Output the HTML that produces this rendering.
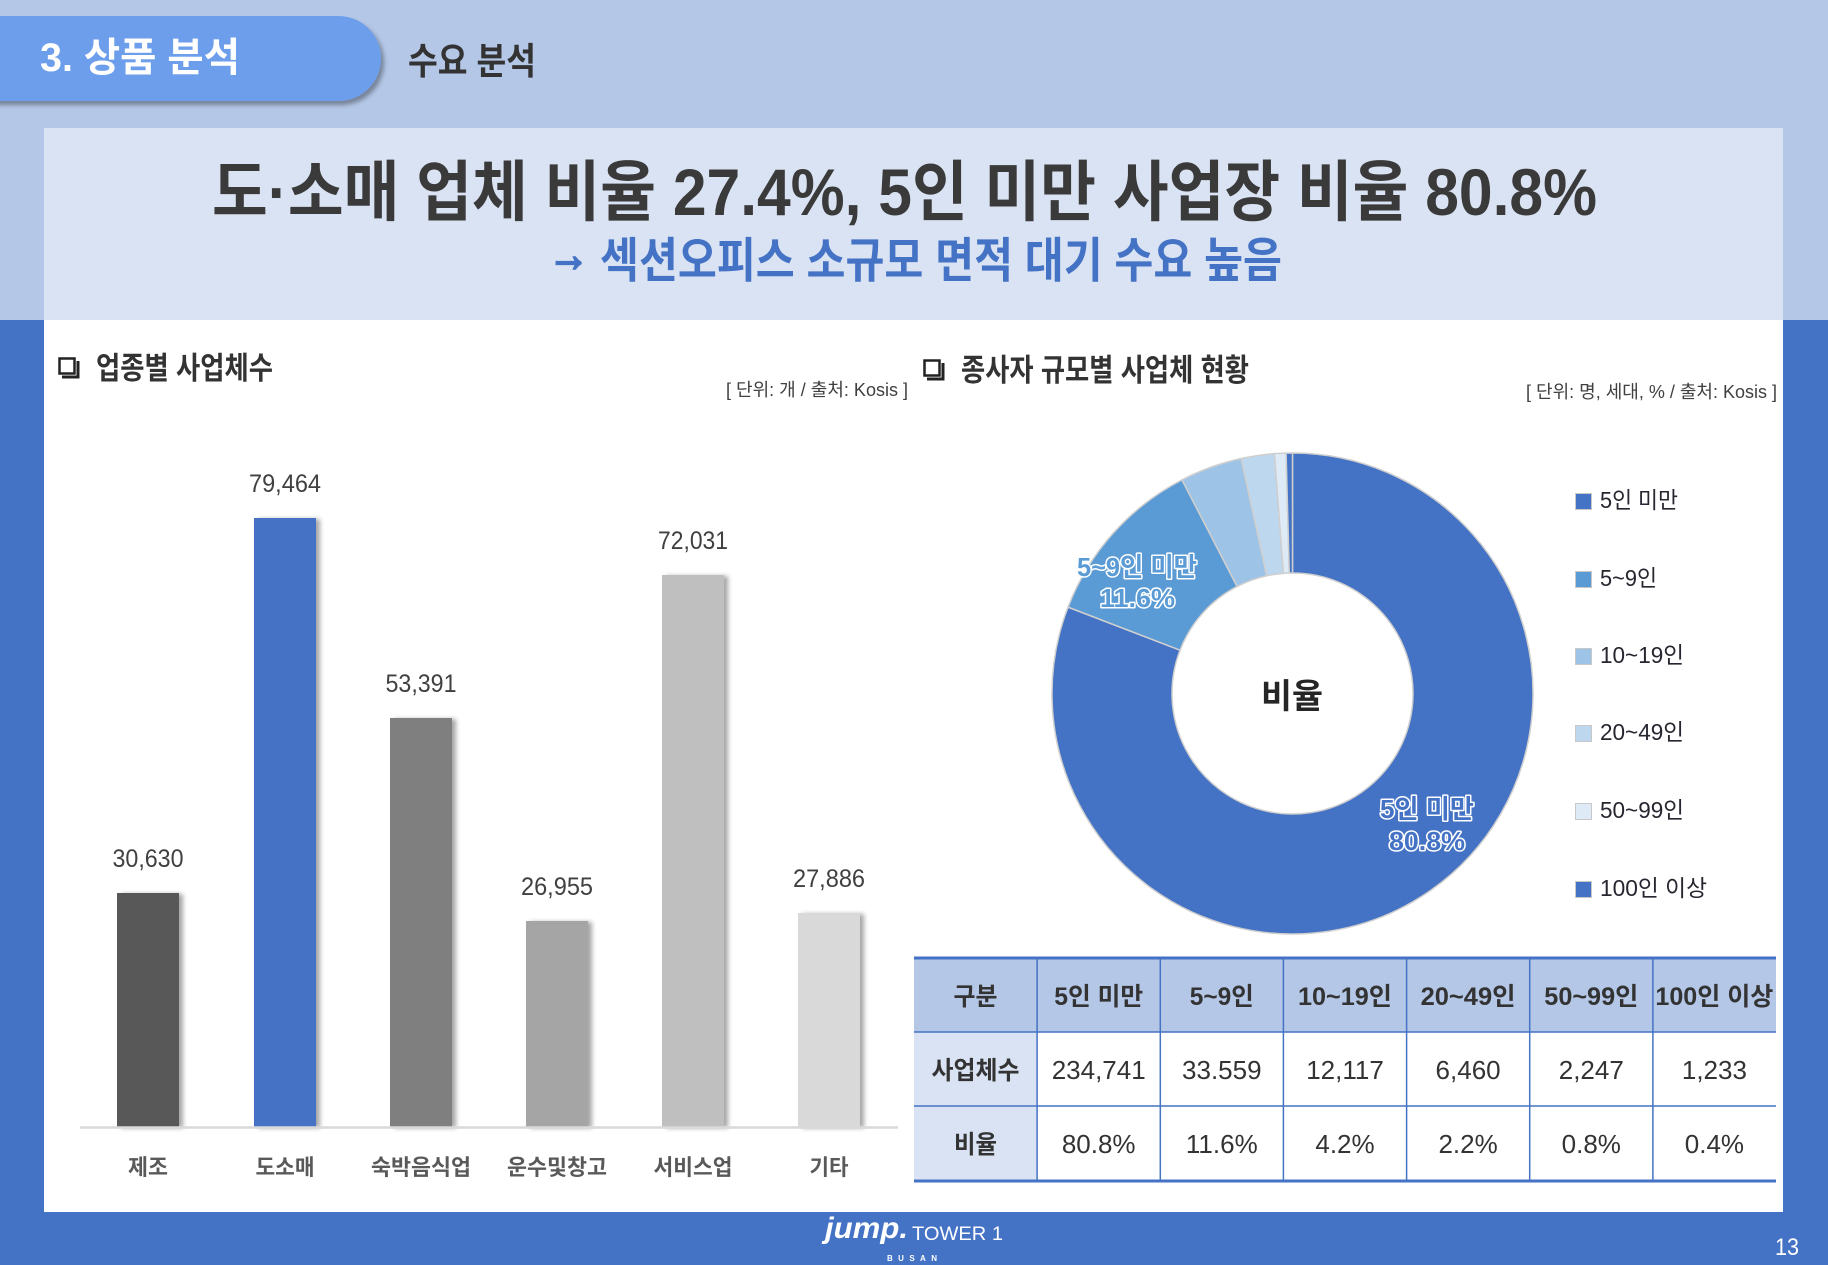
<!DOCTYPE html>
<html><head><meta charset="utf-8"><style>
html,body{margin:0;padding:0;width:1828px;height:1265px;overflow:hidden;background:#4472c4}
svg{display:block}
</style></head><body>
<svg width="1828" height="1265" viewBox="0 0 1828 1265" xmlns="http://www.w3.org/2000/svg" font-family="'Liberation Sans','Noto Sans CJK KR',sans-serif">
<defs>
<filter id="tabsh" x="-10%" y="-20%" width="130%" height="160%"><feDropShadow dx="3" dy="4" stdDeviation="2.5" flood-color="#000" flood-opacity="0.35"/></filter>
<filter id="barsh" x="-20%" y="-5%" width="150%" height="110%"><feDropShadow dx="4" dy="1" stdDeviation="2.5" flood-color="#000" flood-opacity="0.35"/></filter>
</defs>
<!-- backgrounds -->
<rect x="0" y="0" width="1828" height="320" fill="#b4c7e7"/>
<rect x="0" y="320" width="1828" height="945" fill="#4472c4"/>
<rect x="44" y="128" width="1739" height="1084" fill="#ffffff"/>
<rect x="44" y="128" width="1739" height="192" fill="#dae3f3"/>

<!-- tab -->
<path d="M-10,16 H338.5 A42.5,42.5 0 0 1 338.5,101 H-10 Z" fill="#6d9eeb" filter="url(#tabsh)"/>
<text x="40" y="71" font-size="40" font-weight="bold" fill="#ffffff" textLength="200" lengthAdjust="spacingAndGlyphs">3. 상품 분석</text>
<text x="408" y="74" font-size="37" font-weight="bold" fill="#333333" textLength="128" lengthAdjust="spacingAndGlyphs">수요 분석</text>

<!-- headline -->
<text x="212" y="215" font-size="66" font-weight="bold" fill="#3a3a3a" textLength="1385" lengthAdjust="spacingAndGlyphs">도·소매 업체 비율 27.4%, 5인 미만 사업장 비율 80.8%</text>
<text x="548" y="271" font-size="48" font-weight="bold" fill="#4472c4" stroke="#4472c4" stroke-width="2.2" textLength="41" lengthAdjust="spacingAndGlyphs">→</text>
<text x="600" y="277" font-size="48" font-weight="bold" fill="#4472c4" textLength="682" lengthAdjust="spacingAndGlyphs">섹션오피스 소규모 면적 대기 수요 높음</text>

<!-- section titles -->
<rect x="59.5" y="358.5" width="15" height="15" fill="none" stroke="#222" stroke-width="2.5"/>
<polyline points="62,377 78,377 78,361" fill="none" stroke="#222" stroke-width="3"/>
<text x="96" y="379" font-size="31" font-weight="bold" fill="#333" textLength="177" lengthAdjust="spacingAndGlyphs">업종별 사업체수</text>
<text x="726" y="396" font-size="18" fill="#404040" textLength="182" lengthAdjust="spacingAndGlyphs">[ 단위: 개 / 출처: Kosis ]</text>

<rect x="924.5" y="360.5" width="15" height="15" fill="none" stroke="#222" stroke-width="2.5"/>
<polyline points="927,379 943,379 943,363" fill="none" stroke="#222" stroke-width="3"/>
<text x="961" y="381" font-size="31" font-weight="bold" fill="#333" textLength="288" lengthAdjust="spacingAndGlyphs">종사자 규모별 사업체 현황</text>
<text x="1526" y="398" font-size="18" fill="#404040" textLength="251" lengthAdjust="spacingAndGlyphs">[ 단위: 명, 세대, % / 출처: Kosis ]</text>

<!-- bar chart -->
<g filter="url(#barsh)">
<rect x="117" y="893" width="62" height="234" fill="#595959"/>
<rect x="254" y="518" width="62" height="609" fill="#4472c4"/>
<rect x="390" y="718" width="62" height="409" fill="#7f7f7f"/>
<rect x="526" y="921" width="62" height="206" fill="#a5a5a5"/>
<rect x="662" y="575" width="62" height="552" fill="#bfbfbf"/>
<rect x="798" y="913" width="62" height="214" fill="#d9d9d9"/>
</g>
<line x1="80" y1="1127.5" x2="898" y2="1127.5" stroke="#d9d9d9" stroke-width="2.5"/>
<g font-size="25" fill="#404040" text-anchor="middle">
<text x="148" y="867" textLength="71" lengthAdjust="spacingAndGlyphs">30,630</text>
<text x="285" y="492" textLength="72" lengthAdjust="spacingAndGlyphs">79,464</text>
<text x="421" y="692" textLength="71" lengthAdjust="spacingAndGlyphs">53,391</text>
<text x="557" y="895" textLength="72" lengthAdjust="spacingAndGlyphs">26,955</text>
<text x="693" y="549" textLength="70" lengthAdjust="spacingAndGlyphs">72,031</text>
<text x="829" y="887" textLength="72" lengthAdjust="spacingAndGlyphs">27,886</text>
</g>
<g font-size="22" font-weight="bold" fill="#595959" text-anchor="middle">
<text x="148" y="1175" textLength="40" lengthAdjust="spacingAndGlyphs">제조</text>
<text x="285" y="1175" textLength="59" lengthAdjust="spacingAndGlyphs">도소매</text>
<text x="421" y="1175" textLength="100" lengthAdjust="spacingAndGlyphs">숙박음식업</text>
<text x="557" y="1175" textLength="100" lengthAdjust="spacingAndGlyphs">운수및창고</text>
<text x="693" y="1175" textLength="79" lengthAdjust="spacingAndGlyphs">서비스업</text>
<text x="829" y="1175" textLength="39" lengthAdjust="spacingAndGlyphs">기타</text>
</g>

<!-- donut -->
<g stroke="#cfcfcf" stroke-width="1.5" stroke-linejoin="round">
<path d="M1292.5,453 A240.5,240.5 0 1 1 1068.05,607.12 L1180.04,650.22 A120.5,120.5 0 1 0 1292.5,573 Z" fill="#4472c4"/>
<path d="M1068.05,607.12 A240.5,240.5 0 0 1 1182.01,479.89 L1237.14,586.47 A120.5,120.5 0 0 0 1180.04,650.22 Z" fill="#5b9bd5"/>
<path d="M1182.01,479.89 A240.5,240.5 0 0 1 1241.18,458.54 L1266.79,575.78 A120.5,120.5 0 0 0 1237.14,586.47 Z" fill="#9dc3e6"/>
<path d="M1241.18,458.54 A240.5,240.5 0 0 1 1274.43,453.68 L1283.44,573.34 A120.5,120.5 0 0 0 1266.79,575.78 Z" fill="#bdd7ee"/>
<path d="M1274.43,453.68 A240.5,240.5 0 0 1 1286.08,453.09 L1289.28,573.04 A120.5,120.5 0 0 0 1283.44,573.34 Z" fill="#deebf7"/>
<path d="M1286.08,453.09 A240.5,240.5 0 0 1 1292.5,453 L1292.5,573 A120.5,120.5 0 0 0 1289.28,573.04 Z" fill="#4472c4"/>
</g>
<text x="1292" y="708" font-size="34" font-weight="bold" fill="#262626" text-anchor="middle" textLength="62" lengthAdjust="spacingAndGlyphs">비율</text>
<g font-size="26" font-weight="bold" stroke="#ffffff" stroke-width="3" paint-order="stroke" stroke-linejoin="round">
<text x="1077" y="576" fill="#5b9bd5" textLength="120" lengthAdjust="spacingAndGlyphs">5~9인 미만</text>
<text x="1100" y="607" fill="#5b9bd5" textLength="75" lengthAdjust="spacingAndGlyphs">11.6%</text>
<text x="1380" y="818" fill="#4472c4" textLength="94" lengthAdjust="spacingAndGlyphs">5인 미만</text>
<text x="1389" y="850" fill="#4472c4" textLength="76" lengthAdjust="spacingAndGlyphs">80.8%</text>
</g>

<!-- legend -->
<g stroke="#c8c8c8" stroke-width="1">
<rect x="1575.5" y="493.5" width="16" height="16" fill="#4472c4"/>
<rect x="1575.5" y="571.5" width="16" height="16" fill="#5b9bd5"/>
<rect x="1575.5" y="648.5" width="16" height="16" fill="#9dc3e6"/>
<rect x="1575.5" y="725.5" width="16" height="16" fill="#bdd7ee"/>
<rect x="1575.5" y="803.5" width="16" height="16" fill="#deebf7"/>
<rect x="1575.5" y="881.5" width="16" height="16" fill="#4472c4"/>
</g>
<g font-size="23" fill="#262630">
<text x="1600" y="508" textLength="78" lengthAdjust="spacingAndGlyphs">5인 미만</text>
<text x="1600" y="586" textLength="57" lengthAdjust="spacingAndGlyphs">5~9인</text>
<text x="1600" y="663" textLength="84" lengthAdjust="spacingAndGlyphs">10~19인</text>
<text x="1600" y="740" textLength="84" lengthAdjust="spacingAndGlyphs">20~49인</text>
<text x="1600" y="818" textLength="84" lengthAdjust="spacingAndGlyphs">50~99인</text>
<text x="1600" y="896" textLength="107" lengthAdjust="spacingAndGlyphs">100인 이상</text>
</g>

<!-- table -->
<rect x="914" y="958" width="862" height="74" fill="#b4c7e7"/>
<rect x="914" y="1032" width="123.1" height="149" fill="#dae3f3"/>
<g stroke="#4472c4" stroke-width="1.5">
<line x1="914" y1="1032" x2="1776" y2="1032"/>
<line x1="914" y1="1106" x2="1776" y2="1106"/>
<line x1="1037.1" y1="958" x2="1037.1" y2="1181"/>
<line x1="1160.3" y1="958" x2="1160.3" y2="1181"/>
<line x1="1283.4" y1="958" x2="1283.4" y2="1181"/>
<line x1="1406.6" y1="958" x2="1406.6" y2="1181"/>
<line x1="1529.7" y1="958" x2="1529.7" y2="1181"/>
<line x1="1652.9" y1="958" x2="1652.9" y2="1181"/>
</g>
<g stroke="#4472c4" stroke-width="3">
<line x1="914" y1="958" x2="1776" y2="958"/>
<line x1="914" y1="1181" x2="1776" y2="1181"/>
</g>
<g font-size="25" font-weight="bold" fill="#333" text-anchor="middle">
<text x="975.5" y="1005" textLength="44" lengthAdjust="spacingAndGlyphs">구분</text>
<text x="1098.7" y="1005" textLength="89" lengthAdjust="spacingAndGlyphs">5인 미만</text>
<text x="1221.8" y="1005" textLength="64" lengthAdjust="spacingAndGlyphs">5~9인</text>
<text x="1345" y="1005" textLength="94" lengthAdjust="spacingAndGlyphs">10~19인</text>
<text x="1468.1" y="1005" textLength="95" lengthAdjust="spacingAndGlyphs">20~49인</text>
<text x="1591.3" y="1005" textLength="94" lengthAdjust="spacingAndGlyphs">50~99인</text>
<text x="1714.4" y="1005" textLength="118" lengthAdjust="spacingAndGlyphs">100인 이상</text>
<text x="975.5" y="1079" textLength="88" lengthAdjust="spacingAndGlyphs">사업체수</text>
<text x="975.5" y="1153" textLength="43" lengthAdjust="spacingAndGlyphs">비율</text>
</g>
<g font-size="26" fill="#333" text-anchor="middle">
<text x="1098.7" y="1079">234,741</text>
<text x="1221.8" y="1079">33.559</text>
<text x="1345" y="1079">12,117</text>
<text x="1468.1" y="1079">6,460</text>
<text x="1591.3" y="1079">2,247</text>
<text x="1714.4" y="1079">1,233</text>
<text x="1098.7" y="1153">80.8%</text>
<text x="1221.8" y="1153">11.6%</text>
<text x="1345" y="1153">4.2%</text>
<text x="1468.1" y="1153">2.2%</text>
<text x="1591.3" y="1153">0.8%</text>
<text x="1714.4" y="1153">0.4%</text>
</g>

<!-- footer -->
<text x="825" y="1238" font-size="30" font-weight="bold" font-style="italic" fill="#ffffff" textLength="83" lengthAdjust="spacingAndGlyphs">jump.</text>
<text x="912" y="1240" font-size="19" fill="#ffffff" textLength="91" lengthAdjust="spacingAndGlyphs">TOWER 1</text>
<text x="887" y="1261" font-size="8" font-weight="bold" fill="#ffffff" textLength="50" lengthAdjust="spacing">BUSAN</text>
<text x="1775" y="1255" font-size="24" fill="#ffffff" textLength="24" lengthAdjust="spacingAndGlyphs">13</text>
</svg>
</body></html>
